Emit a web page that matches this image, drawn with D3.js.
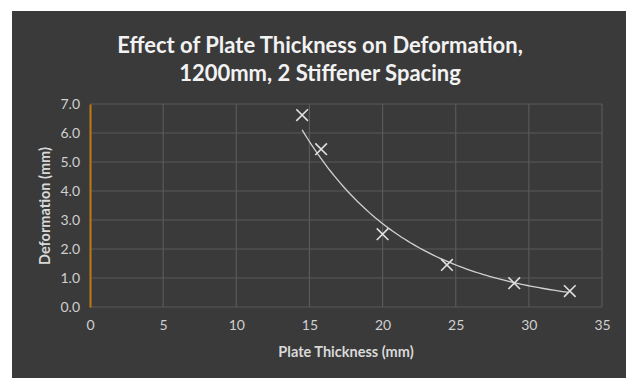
<!DOCTYPE html>
<html>
<head>
<meta charset="utf-8">
<script src="https://cdn.jsdelivr.net/npm/d3@7"></script>
<style>
  body { margin: 0; background: #ffffff; }
  svg { display: block; }
  text { font-family: Lato, "Open Sans", sans-serif; }
</style>
</head>
<body>
<svg id="chart"></svg>
<script>
// measured points (plate thickness mm, deformation mm)
var thickness = [14.5, 15.8, 20.0, 24.4, 29.0, 32.8];
var deformation = [6.62, 5.44, 2.51, 1.45, 0.82, 0.55];
var xTicks = [0, 5, 10, 15, 20, 25, 30, 35];
var yTicks = [0, 1, 2, 3, 4, 5, 6, 7];
var titleLines = ["Effect of Plate Thickness on Deformation,", "1200mm, 2 Stiffener Spacing"];

var W = 627, H = 378;
var margin = {top: 104, right: 25, bottom: 71, left: 90};

var svg = d3.select("#chart")
    .attr("width", W)
    .attr("height", H);

// dark chart panel
svg.append("rect")
    .attr("x", 12).attr("y", 11)
    .attr("width", W - 13).attr("height", H - 11)
    .style("fill", "#3a3a3a");

var x = d3.scaleLinear().domain([0, 35]).range([margin.left, W - margin.right]);
var y = d3.scaleLinear().domain([0, 7]).range([H - margin.bottom, margin.top]);

// gridlines
svg.append("g").selectAll("line")
    .data(yTicks)
    .enter().append("line")
    .attr("x1", x(0)).attr("x2", x(35))
    .attr("y1", function (d) { return y(d); })
    .attr("y2", function (d) { return y(d); })
    .style("stroke", "#595959")
    .style("stroke-width", 1.2);

svg.append("g").selectAll("line")
    .data(xTicks.slice(1))
    .enter().append("line")
    .attr("x1", function (d) { return x(d); })
    .attr("x2", function (d) { return x(d); })
    .attr("y1", y(0)).attr("y2", y(7))
    .style("stroke", "#595959")
    .style("stroke-width", 1.2);

// axes
var xAxis = svg.append("g")
    .attr("transform", "translate(0," + y(0) + ")")
    .call(d3.axisBottom(x).tickValues(xTicks).tickSize(0).tickPadding(13));
xAxis.select(".domain").remove();

var yAxis = svg.append("g")
    .attr("transform", "translate(" + x(0) + ",0)")
    .call(d3.axisLeft(y).tickValues(yTicks).tickSize(0).tickPadding(10)
        .tickFormat(d3.format(".1f")));
yAxis.select(".domain")
    .style("stroke", "#c07a10")
    .style("stroke-width", 2);

svg.selectAll(".tick text")
    .style("fill", "#d0d0d0")
    .style("font-size", "14px");

// exponential trendline fitted to the points
var lx = thickness, ly = deformation.map(Math.log);
var mx = d3.mean(lx), my = d3.mean(ly);
var b = d3.sum(lx, function (d, i) { return (d - mx) * (ly[i] - my); }) /
        d3.sum(lx, function (d) { return (d - mx) * (d - mx); });
var a = Math.exp(my - b * mx);
var xs = d3.range(thickness[0], thickness[thickness.length - 1] + 0.01, 0.2);

svg.append("path")
    .datum(xs)
    .attr("d", d3.line()
        .x(function (d) { return x(d); })
        .y(function (d) { return y(a * Math.exp(b * d)); }))
    .style("fill", "none")
    .style("stroke", "#d0d0d0")
    .style("stroke-width", 1.3);

// X markers
var pts = thickness.map(function (d, i) { return [d, deformation[i]]; });
svg.append("g").selectAll("path")
    .data(pts)
    .enter().append("path")
    .attr("d", d3.symbol().type(d3.symbolTimes).size(90))
    .attr("transform", function (d) { return "translate(" + x(d[0]) + "," + y(d[1]) + ")"; })
    .style("fill", "none")
    .style("stroke", "#e0e0e0")
    .style("stroke-width", 1.6);

// titles
svg.append("g").selectAll("text")
    .data(titleLines)
    .enter().append("text")
    .attr("x", 320)
    .attr("y", function (d, i) { return 53 + i * 28; })
    .style("text-anchor", "middle")
    .style("font-size", "22px")
    .style("font-weight", "bold")
    .style("fill", "#f2f2f2")
    .text(function (d) { return d; });

svg.append("text")
    .attr("x", 346).attr("y", 357)
    .style("text-anchor", "middle")
    .style("font-size", "14.5px")
    .style("font-weight", "bold")
    .style("fill", "#d9d9d9")
    .text("Plate Thickness (mm)");

svg.append("text")
    .attr("transform", "translate(50,206) rotate(-90)")
    .style("text-anchor", "middle")
    .style("font-size", "14.5px")
    .style("font-weight", "bold")
    .style("fill", "#d9d9d9")
    .text("Deformation (mm)");
</script>
</body>
</html>
